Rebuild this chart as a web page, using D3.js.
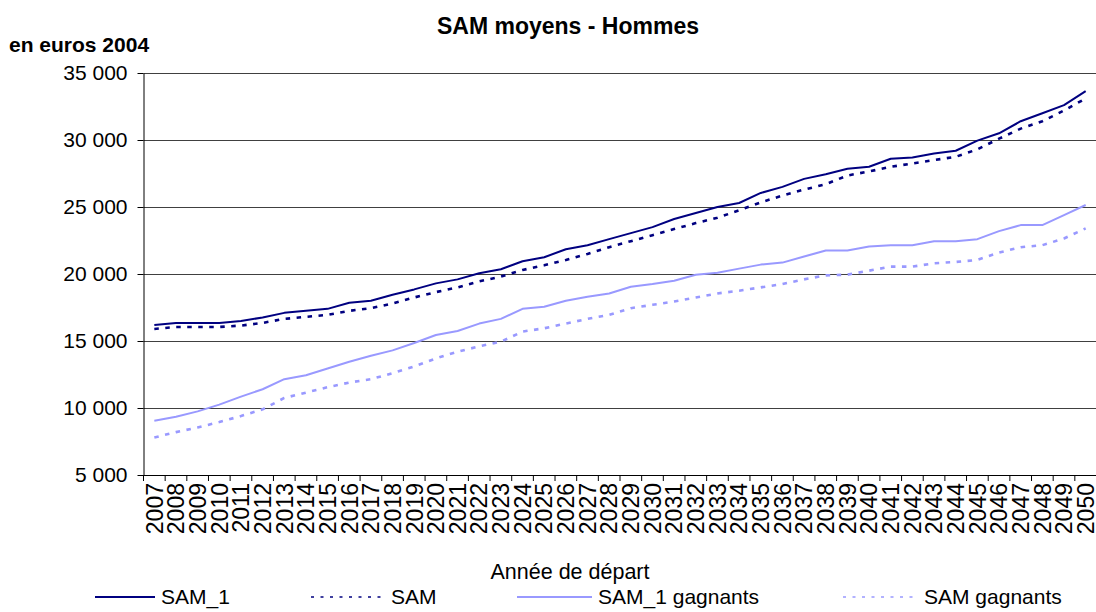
<!doctype html>
<html lang="fr">
<head>
  <meta charset="utf-8">
  <title>SAM moyens - Hommes</title>
  <style>
    body { margin: 0; background: #fff; }
    svg { display: block; font-family: "Liberation Sans", Arial, sans-serif; }
  </style>
</head>
<body>
<svg id="chart" width="1096" height="612"></svg>

<script src="https://d3js.org/d3.v7.min.js"></script>
<script>
    // années de départ
    var years = d3.range(2007, 2051).map(String);

    // valeurs (euros 2004)
    var sam1 = [16200, 16350, 16350, 16350, 16500, 16750, 17100, 17250, 17400, 17850,
                18000, 18450, 18850, 19300, 19600, 20050, 20350, 20950, 21250, 21850,
                22150, 22600, 23050, 23500, 24100, 24550, 25000, 25300, 26050, 26500,
                27100, 27450, 27850, 28000, 28600, 28700, 29000, 29200, 29950, 30500,
                31400, 32000, 32600, 33650];
    var sam = [15900, 16050, 16050, 16050, 16150, 16350, 16650, 16800, 16950, 17250,
               17450, 17800, 18250, 18650, 19000, 19450, 19800, 20300, 20650, 21050,
               21500, 22000, 22450, 22900, 23350, 23800, 24200, 24750, 25350, 25850,
               26300, 26700, 27350, 27650, 28000, 28250, 28500, 28750, 29300, 30100,
               30850, 31400, 32200, 33100];
    var sam1Gagnants = [9050, 9350, 9750, 10250, 10850, 11400, 12150, 12450, 12950, 13450,
                        13900, 14300, 14850, 15450, 15750, 16300, 16650, 17400, 17550, 18000,
                        18300, 18550, 19050, 19250, 19500, 19950, 20100, 20400, 20700, 20850,
                        21300, 21750, 21750, 22050, 22150, 22150, 22450, 22450, 22600, 23200,
                        23650, 23650, 24400, 25150];
    var samGagnants = [7800, 8200, 8550, 8950, 9400, 9900, 10750, 11150, 11550, 11900,
                       12150, 12600, 13100, 13700, 14200, 14600, 14950, 15700, 15950, 16300,
                       16650, 16950, 17450, 17700, 17950, 18250, 18550, 18750, 19000, 19250,
                       19600, 19900, 19950, 20250, 20550, 20550, 20800, 20900, 21050, 21600,
                       22000, 22150, 22650, 23400];

    var yTicks = [5000, 10000, 15000, 20000, 25000, 30000, 35000];

    var series = [
        {name: "SAM_1", values: sam1, color: "#000080", dash: null, width: 2},
        {name: "SAM", values: sam, color: "#000080", dash: "4.5,6.5", width: 2.6},
        {name: "SAM_1 gagnants", values: sam1Gagnants, color: "#9999ff", dash: null, width: 2},
        {name: "SAM gagnants", values: samGagnants, color: "#9999ff", dash: "4.5,6.5", width: 2.6}
    ];

    var svg = d3.select("#chart");

    var plotLeft = 143.5, plotRight = 1096.5, plotTop = 73, plotBottom = 475;

    var x = d3.scaleBand().domain(years).range([plotLeft, plotRight]);
    var y = d3.scaleLinear().domain([5000, 35000]).range([plotBottom, plotTop]);

    var fr = d3.formatLocale({decimal: ",", thousands: " ", grouping: [3], currency: ["", " €"]});
    var fmt = fr.format(",d");

    // quadrillage
    svg.append("g")
        .selectAll("line")
        .data(yTicks.slice(1))
        .join("line")
        .attr("x1", plotLeft).attr("x2", 1096)
        .attr("y1", d => Math.round(y(d)) + 0.5).attr("y2", d => Math.round(y(d)) + 0.5)
        .attr("stroke", "#404040").attr("stroke-width", 1);

    // axe Y
    var yAxis = svg.append("g")
        .attr("transform", "translate(" + plotLeft + ",0)")
        .call(d3.axisLeft(y).tickValues(yTicks).tickFormat(fmt).tickSize(6).tickSizeOuter(0).tickPadding(10));
    yAxis.select(".domain").attr("stroke", "#000");
    yAxis.selectAll(".tick line").attr("stroke", "#000");
    yAxis.selectAll("text").attr("font-size", 21).attr("fill", "#000")
        .attr("font-family", "Liberation Sans, Arial, sans-serif");

    // axe X
    var xAxis = svg.append("g")
        .attr("transform", "translate(0," + plotBottom + ")")
        .call(d3.axisBottom(x).tickSize(0).tickSizeOuter(0));
    xAxis.select(".domain").attr("stroke", "#000").attr("d", "M" + plotLeft + ",0.5H1096");
    xAxis.selectAll("text")
        .attr("font-size", 23).attr("fill", "#000")
        .attr("font-family", "Liberation Sans, Arial, sans-serif")
        .attr("text-anchor", "end")
        .attr("transform", "rotate(-90)")
        .attr("x", -8).attr("y", 0).attr("dy", "0.36em");

    // graduations entre catégories
    svg.append("g")
        .selectAll("line")
        .data(years)
        .join("line")
        .attr("x1", d => x(d)).attr("x2", d => x(d))
        .attr("y1", plotBottom).attr("y2", plotBottom + 6)
        .attr("stroke", "#000");

    // courbes
    var line = d3.line()
        .x((d, i) => x(years[i]) + x.bandwidth() / 2)
        .y(d => y(d));

    svg.append("g")
        .selectAll("path")
        .data(series)
        .join("path")
        .attr("d", d => line(d.values))
        .attr("fill", "none")
        .attr("stroke", d => d.color)
        .attr("stroke-width", d => d.width)
        .attr("stroke-dasharray", d => d.dash)
        .attr("stroke-linejoin", "round");

    // titres
    svg.append("text")
        .attr("x", 568).attr("y", 34)
        .attr("text-anchor", "middle")
        .attr("font-size", 23).attr("font-weight", "bold")
        .text("SAM moyens - Hommes");

    svg.append("text")
        .attr("x", 9).attr("y", 52)
        .attr("font-size", 21).attr("font-weight", "bold")
        .text("en euros 2004");

    svg.append("text")
        .attr("x", 570).attr("y", 579)
        .attr("text-anchor", "middle")
        .attr("font-size", 21.5)
        .text("Année de départ");

    // légende
    var legendPos = [[95, 155], [311, 385], [517, 592], [843, 918]];
    var legend = svg.append("g")
        .selectAll("g")
        .data(series)
        .join("g");

    legend.append("line")
        .attr("x1", (d, i) => legendPos[i][0]).attr("x2", (d, i) => legendPos[i][1])
        .attr("y1", 597).attr("y2", 597)
        .attr("stroke", d => d.color)
        .attr("stroke-width", d => d.dash ? 1.6 : 2)
        .attr("stroke-dasharray", d => d.dash ? "3,6.5" : null);

    legend.append("text")
        .attr("x", (d, i) => legendPos[i][1] + 6)
        .attr("y", 604)
        .attr("font-size", 21)
        .text(d => d.name);
</script>
</body>
</html>
